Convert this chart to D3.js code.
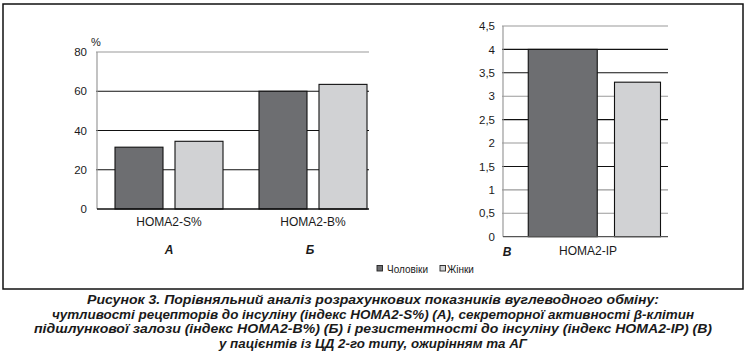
<!DOCTYPE html>
<html>
<head>
<meta charset="utf-8">
<script src="https://cdn.jsdelivr.net/npm/d3@7"></script>
<style>
  html, body { margin: 0; padding: 0; background: #fff; }
  svg { display: block; }
  text { font-family: "Liberation Sans", Arial, sans-serif; fill: #1a1a1a; }
</style>
</head>
<body>
<svg id="chart" width="746" height="355"></svg>
<script>
// ---------- data ----------
const series = ["Чоловіки", "Жінки"];
const categoriesAB = ["HOMA2-S%", "HOMA2-B%"];
const panelLettersAB = ["А", "Б"];
const menAB = [31.5, 60];
const womenAB = [34.5, 63.5];
const ticksAB = [0, 20, 40, 60, 80];
const unitAB = "%";

const categoryC = "HOMA2-IP";
const panelLetterC = "В";
const valuesC = [4.0, 3.3];
const ticksC = [0, 0.5, 1, 1.5, 2, 2.5, 3, 3.5, 4, 4.5];

const captionLines = [
  "Рисунок 3. Порівняльний аналіз розрахункових показників вуглеводного обміну:",
  "чутливості рецепторів до інсуліну (індекс HOMA2-S%) (А), секреторної активності β-клітин",
  "підшлункової залози (індекс HOMA2-B%) (Б) і резистентності до інсуліну (індекс HOMA2-IP) (В)",
  "у пацієнтів із ЦД 2-го типу, ожирінням та АГ"
];

// ---------- styles ----------
const colors = { "Чоловіки": "#6d6e71", "Жінки": "#d1d2d4" };
const gridGray = "#9a9a9a", gridDark = "#111";
const darkTicksAB = [20, 40, 60];
const darkTicksC = [1.5, 2.5, 3.5, 4];

const svg = d3.select("#chart");
const fmt = d => String(d).replace(".", ",");

// outer frame
svg.append("rect").attr("x", 3).attr("y", 4).attr("width", 740).attr("height", 285)
  .attr("fill", "none").attr("stroke", "#111").attr("stroke-width", 1.5);

// ---------- panel A/Б ----------
{
  const left = 97, right = 369, top = 52, bottom = 209;
  const y = d3.scaleLinear().domain([0, 80]).range([bottom, top]);
  const x0 = d3.scaleBand().domain(categoriesAB).range([left, left + 288]).padding(0);
  const x1 = d3.scalePoint().domain(series).range([-30, 30]);
  const barW = 48;
  const g = svg.append("g");

  // grid
  g.selectAll("line.grid").data(ticksAB.filter(t => t > 0)).join("line")
    .attr("x1", left - 1).attr("x2", right)
    .attr("y1", d => y(d)).attr("y2", d => y(d))
    .attr("stroke", d => darkTicksAB.includes(d) ? gridDark : gridGray)
    .attr("stroke-width", 1.1);
  // y axis line
  g.append("line").attr("x1", left).attr("x2", left).attr("y1", y(80)).attr("y2", y(0))
    .attr("stroke", gridGray).attr("stroke-width", 1.2);

  // tick labels via axis
  const axis = d3.axisLeft(y).tickValues(ticksAB).tickSize(0).tickPadding(10).tickFormat(fmt);
  const ag = g.append("g").attr("transform", `translate(${left},0)`).call(axis);
  ag.select(".domain").remove();
  ag.selectAll("text").attr("font-size", 11.5).attr("fill", "#1a1a1a")
    .attr("font-family", "Liberation Sans, Arial, sans-serif");

  // bars
  const rows = categoriesAB.map((c, i) => ({ c, vals: [menAB[i], womenAB[i]] }));
  rows.forEach(r => {
    series.forEach((s, j) => {
      const cx = x0(r.c) + x0.bandwidth() / 2 + x1(s);
      g.append("rect")
        .attr("x", cx - barW / 2).attr("width", barW)
        .attr("y", y(r.vals[j])).attr("height", y(0) - y(r.vals[j]))
        .attr("fill", colors[s]).attr("stroke", "#111").attr("stroke-width", 1.1);
    });
  });

  // zero line
  g.append("line").attr("x1", left).attr("x2", right).attr("y1", y(0)).attr("y2", y(0))
    .attr("stroke", "#111").attr("stroke-width", 1.3);

  // unit
  g.append("text").attr("x", left - 1).attr("y", 46).attr("text-anchor", "middle")
    .attr("font-size", 11).text(unitAB);

  // category labels
  g.selectAll("text.cat").data(categoriesAB).join("text")
    .attr("x", d => x0(d) + x0.bandwidth() / 2).attr("y", 226)
    .attr("text-anchor", "middle").attr("font-size", 12).text(d => d);
  g.selectAll("text.letter").data(panelLettersAB).join("text")
    .attr("x", (d, i) => x0(categoriesAB[i]) + x0.bandwidth() / 2 - (i ? 3 : 0)).attr("y", 254)
    .attr("text-anchor", "middle").attr("font-size", 12)
    .attr("font-weight", "bold").attr("font-style", "italic").text(d => d);
}

// ---------- panel В ----------
{
  const left = 503, right = 668, top = 26, bottom = 236.7;
  const y = d3.scaleLinear().domain([0, 4.5]).range([bottom, top]);
  const x = d3.scalePoint().domain(series).range([562.75, 637.5]);
  const barWidths = { "Чоловіки": 69, "Жінки": 46 };
  const g = svg.append("g");

  g.selectAll("line.grid").data(ticksC.filter(t => t > 0)).join("line")
    .attr("x1", left - 1).attr("x2", right)
    .attr("y1", d => y(d)).attr("y2", d => y(d))
    .attr("stroke", d => darkTicksC.includes(d) ? gridDark : gridGray)
    .attr("stroke-width", 1.1);
  g.append("line").attr("x1", left).attr("x2", left).attr("y1", y(4.5)).attr("y2", y(0))
    .attr("stroke", gridGray).attr("stroke-width", 1.2);

  const axis = d3.axisLeft(y).tickValues(ticksC).tickSize(0).tickPadding(8).tickFormat(fmt);
  const ag = g.append("g").attr("transform", `translate(${left},0)`).call(axis);
  ag.select(".domain").remove();
  ag.selectAll("text").attr("font-size", 11.5).attr("fill", "#1a1a1a")
    .attr("font-family", "Liberation Sans, Arial, sans-serif");

  series.forEach((s, j) => {
    const w = barWidths[s];
    g.append("rect")
      .attr("x", x(s) - w / 2).attr("width", w)
      .attr("y", y(valuesC[j])).attr("height", y(0) - y(valuesC[j]))
      .attr("fill", colors[s]).attr("stroke", "#111").attr("stroke-width", 1.1);
  });

  g.append("line").attr("x1", left).attr("x2", right).attr("y1", y(0)).attr("y2", y(0))
    .attr("stroke", "#555").attr("stroke-width", 1.2);

  g.append("text").attr("x", 588).attr("y", 255).attr("text-anchor", "middle")
    .attr("font-size", 12).text(categoryC);
  g.append("text").attr("x", 507).attr("y", 256).attr("text-anchor", "middle")
    .attr("font-size", 12).attr("font-weight", "bold").attr("font-style", "italic")
    .text(panelLetterC);
}

// ---------- legend ----------
{
  const lg = svg.append("g");
  const pos = [{ sx: 377, tx: 387 }, { sx: 440, tx: 447 }];
  series.forEach((s, i) => {
    lg.append("rect").attr("x", pos[i].sx).attr("y", 265.5).attr("width", 5.5).attr("height", 5.5)
      .attr("fill", colors[s]).attr("stroke", "#222").attr("stroke-width", 0.9);
    lg.append("text").attr("x", pos[i].tx).attr("y", 272.5).attr("font-size", 10).text(s);
  });
}

// ---------- caption ----------
{
  const widths = [572, 642, 678, 308];
  svg.selectAll("text.cap").data(captionLines).join("text")
    .attr("x", 373).attr("y", (d, i) => 304 + i * 14.5)
    .attr("text-anchor", "middle")
    .attr("font-family", "'Liberation Sans Narrow', 'Arial Narrow', 'Liberation Sans', sans-serif")
    .attr("font-weight", "bold").attr("font-style", "italic").attr("font-size", 13.5)
    .attr("textLength", (d, i) => widths[i]).attr("lengthAdjust", "spacingAndGlyphs")
    .style("fill", "#1a1a1a")
    .text(d => d);
}
</script>
</body>
</html>
